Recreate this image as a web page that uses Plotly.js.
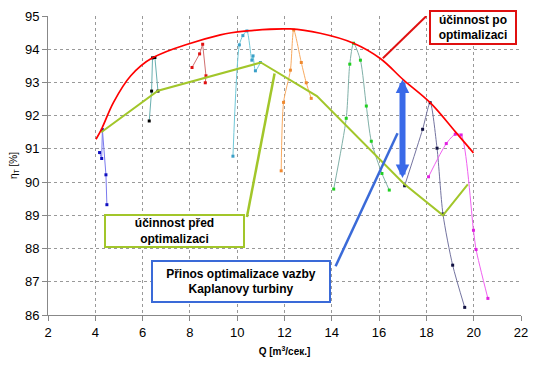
<!DOCTYPE html>
<html><head><meta charset="utf-8">
<script src="https://cdn.plot.ly/plotly-3.0.1.min.js"></script>
<style>html,body{margin:0;padding:0;background:#fff}#c{width:550px;height:365px}</style>
</head><body><div id="c"></div>
<script>
// Efficiency after optimisation (envelope)
const qAfter   = [4.03, 4.28, 4.77, 5.5, 6.42, 9.29, 10.41, 12.25, 13.51, 14.92, 16.05, 17.04, 18.16, 19.22, 19.99];
const etaAfter = [91.29, 91.62, 92.4, 93.2, 93.74, 94.43, 94.55, 94.61, 94.48, 94.18, 93.72, 93.07, 92.39, 91.52, 90.88];
// Efficiency before optimisation
const qBefore   = [4.25, 6.65, 11.0, 13.37, 17.05, 18.7, 19.75];
const etaBefore = [91.5, 92.75, 93.6, 92.59, 89.95, 89.0, 89.93];
// Individual turbine curves
const q1 = [4.18, 4.27, 4.30, 4.45, 4.49];
const e1 = [90.89, 90.71, 91.58, 90.22, 89.32];
const q2 = [6.28, 6.38, 6.42, 6.52, 6.65];
const e2 = [91.84, 92.74, 93.74, 93.75, 92.74];
const q3 = [8.09, 8.41, 8.54, 8.68, 8.65];
const e3 = [93.45, 93.86, 94.15, 93.2, 92.99];
const q4 = [9.82, 10.09, 10.24, 10.41, 10.62, 10.67, 10.77, 10.98];
const e4 = [90.78, 94.13, 94.41, 94.55, 93.67, 93.8, 93.35, 93.6];
const q5 = [11.86, 11.96, 12.25, 12.39, 12.71, 12.92, 13.13];
const e5 = [90.34, 92.4, 93.37, 94.58, 93.6, 92.99, 92.52];
const q6 = [14.08, 14.61, 14.76, 14.92, 15.21, 15.46, 15.67, 16.12, 16.43];
const e6 = [89.79, 91.92, 93.55, 94.18, 93.67, 92.29, 91.23, 90.26, 89.76];
const q7 = [17.08, 17.84, 18.16, 18.45, 18.7, 19.11, 19.62];
const e7 = [89.89, 91.59, 92.39, 91.02, 89.04, 87.5, 86.23];
const q8 = [18.09, 18.84, 19.22, 19.47, 19.99, 20.1, 20.6];
const e8 = [90.16, 91.16, 91.44, 91.42, 88.55, 87.97, 86.5];
// Axis ticks
const xTicks = [2, 4, 6, 8, 10, 12, 14, 16, 18, 20, 22];
const yTicks = [86, 87, 88, 89, 90, 91, 92, 93, 94, 95];

function curve(x, y, lc, mc, shape) {
  return {x: x, y: y, type: 'scatter', mode: 'lines+markers', showlegend: false,
    line: {color: lc, width: 1, shape: shape || 'spline', smoothing: 0.7},
    marker: {color: mc, size: 3, symbol: 'square'}, hoverinfo: 'skip'};
}
const data = [
  curve(q1, e1, '#7a7aee', '#1010c0', 'linear'),
  curve(q2, e2, '#6ab0b0', '#000000', 'linear'),
  curve(q3, e3, '#d07070', '#e01010', 'linear'),
  curve(q4, e4, '#70c8d8', '#3aa0c8'),
  curve(q5, e5, '#f8aa60', '#f08a30'),
  curve(q6, e6, '#80b0a8', '#20d020'),
  curve(q7, e7, '#7474a0', '#101040'),
  curve(q8, e8, '#f060f0', '#e020e0'),
  {x: qBefore, y: etaBefore, type: 'scatter', mode: 'lines', showlegend: false,
    line: {color: '#a2c62a', width: 2}, hoverinfo: 'skip'},
  {x: qAfter, y: etaAfter, type: 'scatter', mode: 'lines', showlegend: false,
    line: {color: '#ff0000', width: 1.7, shape: 'spline', smoothing: 1}, hoverinfo: 'skip'}
];
const font = 'Liberation Sans, Arial, sans-serif';
const layout = {
  width: 550, height: 365,
  margin: {l: 48, r: 29, t: 16, b: 50},
  paper_bgcolor: '#fff', plot_bgcolor: '#fff',
  font: {family: font, color: '#000'},
  xaxis: {range: [2, 22], tickvals: xTicks, ticktext: xTicks.map(String),
    showgrid: true, gridcolor: '#999', griddash: 'dot', gridwidth: 1,
    zeroline: false, showline: true, linecolor: '#888', linewidth: 1,
    ticks: 'outside', ticklen: 5, tickcolor: '#888', tickfont: {size: 13, family: font},
    title: {text: '<b>Q [m<sup>3</sup>/сек.]</b>', font: {size: 10, family: font}, standoff: 9}},
  yaxis: {range: [86, 95], tickvals: yTicks, ticktext: yTicks.map(String),
    showgrid: true, gridcolor: '#999', griddash: 'dot', gridwidth: 1,
    zeroline: false, showline: true, linecolor: '#888', linewidth: 1,
    ticks: 'outside', ticklen: 5, tickcolor: '#888', tickfont: {size: 13, family: font},
    title: {text: 'η<sub>T</sub> [%]', font: {size: 10, family: font}, standoff: 5}},
  shapes: [
    {type: 'line', xref: 'x', yref: 'y', x0: 18.0, y0: 95.0, x1: 16.16, y1: 93.73, line: {color: '#e01010', width: 2}},
    {type: 'line', xref: 'x', yref: 'y', x0: 10.41, y0: 88.95, x1: 11.58, y1: 93.27, line: {color: '#a2c62a', width: 2.5}},
    {type: 'line', xref: 'x', yref: 'y', x0: 14.16, y0: 87.47, x1: 16.78, y1: 91.47, line: {color: '#3a6ad8', width: 2.5}}
  ],
  annotations: [
    {xref: 'x', yref: 'y', x: 19.98, y: 94.65, xanchor: 'center', yanchor: 'middle', showarrow: false,
      text: '<b>účinnost po<br>optimalizaci</b>', font: {size: 12, family: font, color: '#000'},
      bgcolor: '#fff', bordercolor: '#e01010', borderwidth: 2, borderpad: 1, width: 82, height: 29},
    {xref: 'x', yref: 'y', x: 7.33, y: 88.54, xanchor: 'center', yanchor: 'middle', showarrow: false,
      text: '<b>účinnost před<br>optimalizaci</b>', font: {size: 12, family: font, color: '#000'},
      bgcolor: '#fff', bordercolor: '#a2c62a', borderwidth: 2, borderpad: 1, width: 135, height: 28},
    {xref: 'x', yref: 'y', x: 10.17, y: 87.02, xanchor: 'center', yanchor: 'middle', showarrow: false,
      text: '<b>Přinos optimalizace vazby<br>Kaplanovy turbiny</b>', font: {size: 12, family: font, color: '#000'},
      bgcolor: '#fff', bordercolor: '#3a6ad8', borderwidth: 2, borderpad: 1, width: 174, height: 37},
    {xref: 'x', yref: 'y', axref: 'x', ayref: 'y', x: 16.99, y: 93.09, ax: 16.99, ay: 90.08, text: '',
      showarrow: true, arrowside: 'end+start', arrowhead: 2, startarrowhead: 2, arrowsize: 0.45, startarrowsize: 0.45,
      arrowwidth: 6, arrowcolor: '#3a6ae8', standoff: 0, startstandoff: 0}
  ]
};
Plotly.newPlot('c', data, layout, {staticPlot: true, displayModeBar: false});
</script></body></html>
